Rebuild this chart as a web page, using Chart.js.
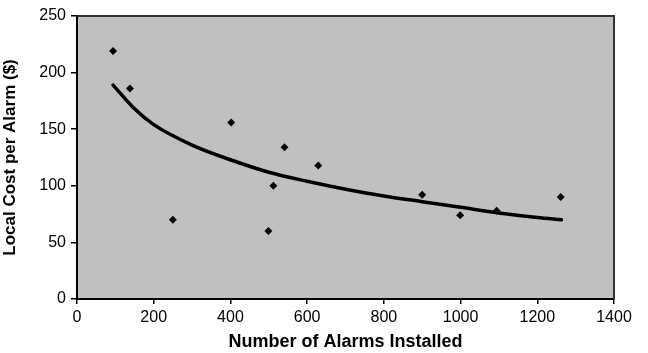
<!DOCTYPE html>
<html>
<head>
<meta charset="utf-8">
<script src="https://cdn.jsdelivr.net/npm/chart.js@4/dist/chart.umd.min.js"></script>
<style>
  html, body { margin: 0; padding: 0; background: #fff; }
  #wrap { width: 648px; height: 353px; }
</style>
</head>
<body>
<div id="wrap"><canvas id="alarm-chart"></canvas></div>
<script>
// observed points: alarms installed vs local cost per alarm
const alarmsInstalled = [94, 138, 250, 402, 499, 512, 541, 629, 900, 999, 1094, 1261];
const costPerAlarm = [219, 186, 70, 156, 60, 100, 134, 118, 92, 74, 78, 90];

// trend curve
const trendX = [94, 150, 200, 300, 400, 500, 600, 700, 800, 900, 1000, 1100, 1200, 1263];
const trendY = [189, 168, 154, 136, 123, 112, 104, 97, 91, 86, 81, 76, 72, 70];

const xTicks = [0, 200, 400, 600, 800, 1000, 1200, 1400];
const yTicks = [0, 50, 100, 150, 200, 250];

const font = "'Liberation Sans', Arial, sans-serif";

// gray plot background and frame
const plotBackground = {
    id: "plotBackground",
    beforeDraw(chart) {
        const { ctx, chartArea: a } = chart;
        ctx.save();
        ctx.fillStyle = "#c0c0c0";
        ctx.fillRect(a.left, a.top, a.right - a.left, a.bottom - a.top);
        ctx.restore();
    },
    afterDraw(chart) {
        const { ctx, chartArea: a } = chart;
        ctx.save();
        ctx.strokeStyle = "#333";
        ctx.lineWidth = 2;
        ctx.beginPath();
        ctx.moveTo(a.left, a.top);
        ctx.lineTo(a.right, a.top);
        ctx.lineTo(a.right, a.bottom);
        ctx.stroke();
        ctx.restore();
    }
};

new Chart(document.getElementById("alarm-chart"), {
    type: "scatter",
    data: {
        datasets: [{
            label: "Cost",
            data: alarmsInstalled.map((x, i) => ({ x: x, y: costPerAlarm[i] })),
            pointStyle: "rectRot",
            pointRadius: 4,
            pointBackgroundColor: "#000",
            pointBorderColor: "#000",
            borderWidth: 0,
            order: 1
        }, {
            type: "line",
            label: "Trend",
            data: trendX.map((x, i) => ({ x: x, y: trendY[i] })),
            borderColor: "#000",
            borderWidth: 3.5,
            pointRadius: 0,
            cubicInterpolationMode: "monotone",
            borderCapStyle: "round",
            fill: false,
            order: 2
        }]
    },
    options: {
        responsive: true,
        maintainAspectRatio: false,
        animation: false,
        layout: { padding: { top: 16, right: 34, left: 0, bottom: 0 } },
        plugins: { legend: { display: false }, tooltip: { enabled: false } },
        scales: {
            x: {
                type: "linear",
                min: 0,
                max: 1400,
                afterBuildTicks: (s) => { s.ticks = xTicks.map(v => ({ value: v })); },
                afterFit: (s) => { s.height = 54; },
                grid: { drawOnChartArea: false, drawTicks: true, tickLength: 5, color: "#000", lineWidth: 1.5 },
                border: { display: true, color: "#000", width: 2 },
                ticks: {
                    color: "#000",
                    font: { family: font, size: 16 },
                    padding: 4,
                    maxRotation: 0,
                    callback: (v) => String(v)
                },
                title: {
                    display: true,
                    text: "Number of Alarms Installed",
                    color: "#000",
                    font: { family: font, size: 18, weight: "bold" },
                    padding: { top: 2, bottom: 0 }
                }
            },
            y: {
                min: 0,
                max: 250,
                afterBuildTicks: (s) => { s.ticks = yTicks.map(v => ({ value: v })); },
                afterFit: (s) => { s.width = 77; },
                grid: { drawOnChartArea: false, drawTicks: true, tickLength: 6, color: "#000", lineWidth: 1.5 },
                border: { display: true, color: "#000", width: 2 },
                ticks: {
                    color: "#000",
                    font: { family: font, size: 16 },
                    padding: 5,
                    callback: (v) => String(v)
                },
                title: {
                    display: true,
                    text: "Local Cost per Alarm ($)",
                    color: "#000",
                    font: { family: font, size: 17, weight: "bold" },
                    padding: { top: 0, bottom: 4 }
                }
            }
        }
    },
    plugins: [plotBackground]
});
</script>
</body>
</html>
